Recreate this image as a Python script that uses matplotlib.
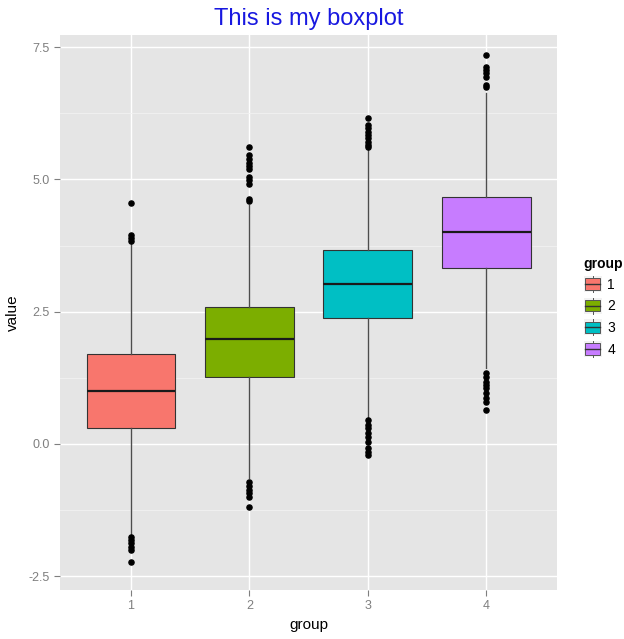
import matplotlib
matplotlib.use("Agg")
import matplotlib.pyplot as plt
import matplotlib.patches as mpatches
from matplotlib.legend_handler import HandlerBase
from matplotlib.lines import Line2D

plt.rcParams["font.family"] = ["Liberation Sans", "DejaVu Sans"]

# values
groups = ["1", "2", "3", "4"]
colors = ["#F8766D", "#7CAE00", "#00BFC4", "#C77CFF"]
q1 = [0.30, 1.27, 2.38, 3.33]
med = [1.00, 1.98, 3.02, 4.01]
q3 = [1.70, 2.59, 3.67, 4.67]
whislo = [-1.72, -0.64, 0.51, 1.44]
whishi = [3.80, 4.52, 5.60, 6.64]
fliers = [
    [4.56, 3.95, 3.89, 3.83, -1.76, -1.81, -1.87, -1.95, -2.00, -2.23],
    [5.61, 5.46, 5.39, 5.31, 5.26, 5.20, 5.05, 4.99, 4.91, 4.63, 4.60,
     -0.72, -0.79, -0.87, -0.93, -1.00, -1.19],
    [6.16, 6.03, 5.97, 5.90, 5.84, 5.78, 5.71, 5.65, 5.62,
     0.45, 0.36, 0.30, 0.21, 0.13, 0.04, -0.08, -0.15, -0.21],
    [7.35, 7.13, 7.07, 7.01, 6.94, 6.79, 6.75,
     1.34, 1.27, 1.17, 1.12, 1.06, 0.96, 0.87, 0.79, 0.64],
]

stats = [
    {"q1": a, "med": m, "q3": b, "whislo": lo, "whishi": hi, "fliers": f, "label": g}
    for g, a, m, b, lo, hi, f in zip(groups, q1, med, q3, whislo, whishi, fliers)
]

fig = plt.figure(figsize=(6.24, 6.39), dpi=100)
ax = fig.add_axes([0.096, 0.077, 0.797, 0.868])
ax.set_facecolor("#E5E5E5")

positions = list(range(1, len(groups) + 1))
bp = ax.bxp(
    stats, positions=positions, widths=0.75, patch_artist=True,
    showcaps=False,
    boxprops=dict(edgecolor="#333333", linewidth=0.8),
    medianprops=dict(color="#1a1a1a", linewidth=1.6),
    whiskerprops=dict(color="#4d4d4d", linewidth=1.0),
    flierprops=dict(marker="o", markerfacecolor="black", markeredgecolor="black",
                    markersize=3.7, linestyle="none"),
    zorder=3,
)
for box, c in zip(bp["boxes"], colors):
    box.set_facecolor(c)

ax.set_xlim(0.4, 4.6)
ax.set_ylim(-2.76, 7.73)
ax.set_yticks([-2.5, 0.0, 2.5, 5.0, 7.5])
ax.set_yticklabels(["-2.5", "0.0", "2.5", "5.0", "7.5"])
ax.set_yticks([-1.25, 1.25, 3.75, 6.25], minor=True)
ax.set_xticks(positions)
ax.set_xticklabels(groups)

ax.grid(True, which="major", color="white", linewidth=1.0, zorder=0)
ax.grid(True, which="minor", axis="y", color="#F2F2F2", linewidth=0.6, zorder=0)
ax.set_axisbelow(True)
for s in ax.spines.values():
    s.set_visible(False)
ax.tick_params(axis="both", which="major", colors="#7F7F7F", labelsize=9,
               length=4, width=0.8, labelcolor="#7F7F7F")
ax.tick_params(axis="y", which="minor", length=0)

ax.set_xlabel("group", fontsize=11, labelpad=4)
ax.set_ylabel("value", fontsize=11, labelpad=6)
ax.set_title("This is my boxplot", color="#1818E0", fontsize=17, pad=7)


class BoxKey(HandlerBase):
    def create_artists(self, legend, orig_handle, xdescent, ydescent,
                       width, height, fontsize, trans):
        c = orig_handle.get_facecolor()
        x0, y0 = -xdescent, -ydescent
        bg = mpatches.Rectangle((x0, y0), width, height,
                                facecolor="#F2F2F2", edgecolor="none",
                                transform=trans)
        bx = mpatches.Rectangle((x0 + width * 0.08, y0 + height * 0.15),
                                width * 0.84, height * 0.7, facecolor=c,
                                edgecolor="#555555", lw=0.7, transform=trans)
        mid = y0 + height * 0.5
        xc = x0 + width / 2
        ml = Line2D([x0 + width * 0.08, x0 + width * 0.92], [mid, mid],
                    color="#333333", lw=1.0, transform=trans)
        wu = Line2D([xc, xc], [y0 + height * 0.85, y0 + height],
                    color="#555555", lw=0.7, transform=trans)
        wl = Line2D([xc, xc], [y0, y0 + height * 0.15],
                    color="#555555", lw=0.7, transform=trans)
        return [bg, bx, ml, wu, wl]


handles = [mpatches.Patch(facecolor=c, label=g) for g, c in zip(groups, colors)]
leg = fig.legend(handles=handles, labels=groups, title="group",
                 loc="center left", bbox_to_anchor=(0.924, 0.52),
                 frameon=False, fontsize=10, handlelength=1.3, handleheight=1.4,
                 handletextpad=0.4, labelspacing=0.4, borderpad=0,
                 handler_map={mpatches.Patch: BoxKey()})
leg.get_title().set_fontweight("bold")
leg.get_title().set_fontsize(10)
leg._legend_box.align = "left"

fig.savefig("out.png", dpi=100)
